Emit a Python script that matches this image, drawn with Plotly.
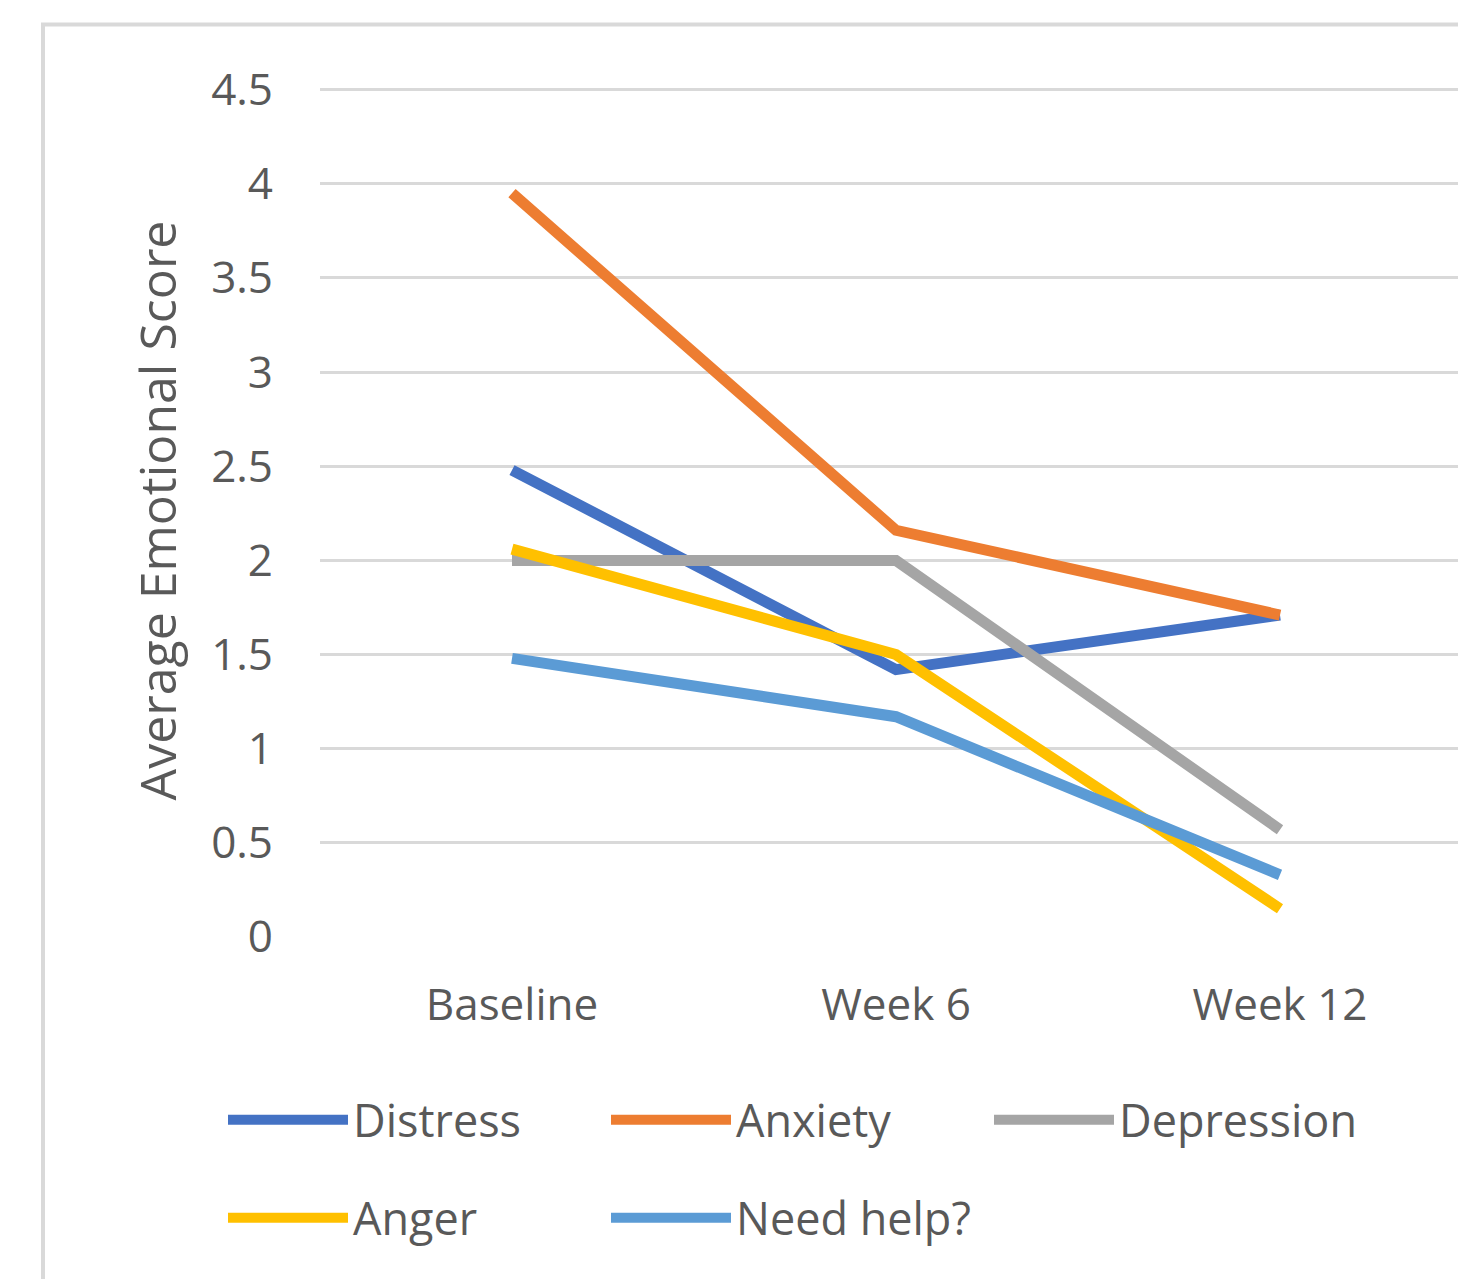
import plotly.graph_objects as go

categories = ["Baseline", "Week 6", "Week 12"]
distress = [2.48, 1.42, 1.71]
anxiety = [3.95, 2.16, 1.71]
depression = [2.0, 2.0, 0.57]
anger = [2.06, 1.50, 0.15]
need_help = [1.48, 1.17, 0.33]

series = [
    ("Distress", distress, "#4472C4", "legend"),
    ("Anxiety", anxiety, "#ED7D31", "legend"),
    ("Depression", depression, "#A5A5A5", "legend"),
    ("Anger", anger, "#FFC000", "legend2"),
    ("Need help?", need_help, "#5B9BD5", "legend2"),
]

FONT = "Open Sans, Noto Sans, sans-serif"
TXT = "#595959"

fig = go.Figure()
for name, vals, color, lg in series:
    fig.add_trace(go.Scatter(
        x=categories, y=vals, name=name, mode="lines",
        line=dict(color=color, width=11),
        legend=lg,
    ))

OFF = 8  # page body margin
W, H = 1466 - OFF, 1279 - OFF
YMAX = 4.53
# screen: plot left 320, y=0 at 937, y=4.5 at 90
px_per_unit = (937 - 90) / 4.5
plot_h = px_per_unit * YMAX
top_screen = 937 - plot_h
L = 320 - OFF
T = top_screen - OFF
B = H - (937 - OFF)
R = 0
PW = W - L - R
PH = H - T - B


def px(sx):
    return (sx - OFF - L) / PW


def py(sy):
    return ((937 - OFF) - (sy - OFF)) / PH


fig.update_layout(
    width=W, height=H,
    margin=dict(l=L, r=R, t=T, b=B, autoexpand=False),
    paper_bgcolor="white", plot_bgcolor="white",
    font=dict(family=FONT, color=TXT, size=44),
    xaxis=dict(
        type="category", range=[-0.5, 2.5 - 6 / 384],
        showgrid=False, zeroline=False, showline=False,
        ticks="", ticklabelstandoff=38,
        tickfont=dict(size=44, color=TXT, family=FONT),
    ),
    yaxis=dict(
        range=[0, YMAX], dtick=0.5, tick0=0,
        showgrid=True, gridcolor="#D9D9D9", gridwidth=3,
        zeroline=False, showline=False, ticks="",
        ticklabelstandoff=46,
        tickfont=dict(size=44, color=TXT, family=FONT),
        title=dict(text="Average Emotional Score",
                   font=dict(size=50, color=TXT, family=FONT), standoff=18),
    ),
    legend=dict(
        orientation="h", x=px(223), xanchor="left",
        y=py(1120), yanchor="middle",
        itemwidth=120, entrywidth=248, entrywidthmode="pixels",
        font=dict(size=45, color=TXT, family=FONT),
        bgcolor="rgba(0,0,0,0)",
    ),
    legend2=dict(
        orientation="h", x=px(223), xanchor="left",
        y=py(1218), yanchor="middle",
        itemwidth=120, entrywidth=248, entrywidthmode="pixels",
        font=dict(size=45, color=TXT, family=FONT),
        bgcolor="rgba(0,0,0,0)",
    ),
    shapes=[dict(
        type="rect", xref="paper", yref="paper",
        x0=px(43), x1=px(1500),
        y0=py(1320), y1=py(25),
        line=dict(color="#D9D9D9", width=4), layer="below",
    )],
)

fig.write_html("out.html")
